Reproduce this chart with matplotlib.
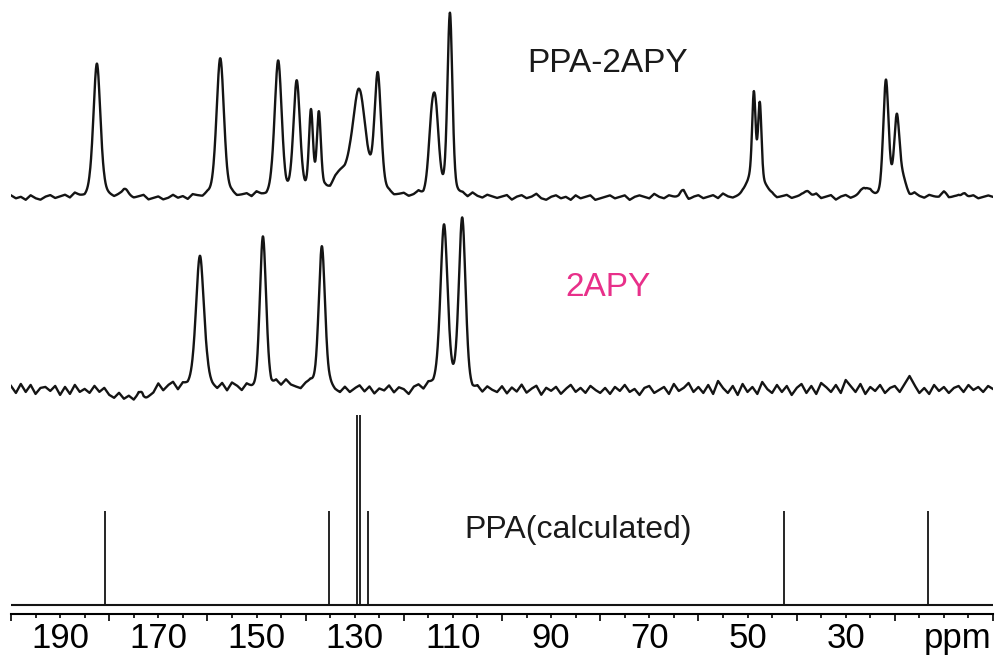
import numpy as np
import matplotlib
matplotlib.use("Agg")
import matplotlib.pyplot as plt

plt.rcParams['font.family'] = ['Liberation Sans', 'DejaVu Sans']

# ---- spectrum data (chemical shift in ppm, intensity in plot units) ----
# PPA-2APY: peak list (centre ppm, height, FWHM ppm)
top_centers = [182.5, 176.6, 157.4, 145.6, 141.8, 138.9, 137.3, 132.6, 129.1,
               125.3, 114.4, 113.5, 110.6, 63.3, 49.6, 48.7, 47.5, 46.6, 37.9, 26.1,
               21.8, 19.6, 18.3, 9.8, 5.9]
top_heights = [134, 5, 137, 133, 112, 80, 80, 22, 104,
               120, 52, 76, 182, 6, 16, 92, 84, 10, 7, 9,
               114, 78, 14, 4, 5]
top_widths = [1.7, 1.4, 1.8, 1.7, 1.6, 1.0, 1.0, 4.0, 3.0,
              1.6, 1.5, 1.6, 1.2, 1.5, 2.0, 0.85, 0.85, 2.0, 1.4, 1.8,
              1.3, 1.3, 1.6, 2.0, 1.0]
top_baseline = 417
# baseline ripple, PPA-2APY (evenly spaced from 200 to 0 ppm)
top_ripple = [1, -1, 0, -2, 1, -1, -2, 0, 1, -1, 0, 1, -1, 2, 0, -1, 1, 0, -1, 1,
              0, -1, 1, 2, 0, -1, 0, 1, -2, -1, 0, -2, -1, 1, -1, 0, -2, 1, 0, -1,
              1, 0, -1, 2, 0, 1, -1, 0, 1, -1, 2, 0, -1, 1, 0, 2, -1, 0, 1, -1,
              0, 1, -1, 0, 2, -1, 1, 0, -1, 1, 0, -1, 1, 2, 0, -1, 0, 1, -1, 0,
              1, -1, 0, 2, -1, 0, 1, -1, 0, 1, -2, 0, 1, -1, 2, 0, -1, 1, 0, -1,
              0, 1, -2, 0, 1, -1, 0, 2, -1, -2, 0, 1, -1, 0, -2, 1, -1, 0, 1, -2,
              -1, 0, 1, -1, 0, 1, -2, 0, 1, 0, -1, 2, 0, -1, 1, 0, -1, 1, -2, 0,
              1, -1, 0, 1, -1, 2, 0, -1, 0, 1, -1, 0, 2, -1, 0, 1, -1, 0, 1, -1,
              0, 1, -1, 0, 2, -1, 0, 1, -2, 0, 1, -1, 0, 1, -1, 2, 0, -1, 1, 0,
              -1, 1, 0, -1, 2, 0, -1, 1, 0, -1, 1, -2, 0, 1, -1, 0, 1, -1, 0, 1, 0]

# 2APY: peak list
mid_centers = [173.3, 161.5, 148.7, 136.7, 111.8, 108.1]
mid_heights = [6, 128, 150, 143, 156, 166]
mid_widths = [1.0, 1.9, 1.5, 1.5, 1.7, 1.6]
mid_baseline = 224
# baseline noise, 2APY (evenly spaced from 200 to 0 ppm)
mid_ripple = [4, -3, 6, -2, 5, -4, 2, 3, -1, 4, -5, 3, -4, 5, -2, 1, -3, 4, -2, 2,
              -5, -8, -3, -9, -6, -10, -4, -11, -7, -3, 6, -1, 4, 7, -1, 5, 3, 6, 8, 4,
              7, 2, -1, 5, -2, 6, 3, -2, 4, 0, -3, 2, 6, 1, 7, 3, 9, 4, 2, 0,
              5, 7, 2, -1, 4, 3, -2, -4, 2, -3, 1, 4, -2, 3, -4, 1, -1, 4, -3, 2,
              0, -5, 2, 4, -1, 5, 3, 7, 8, 5, 3, 6, 4, 0, -3, 1, -4, 2, -1, -3,
              3, -4, 2, -2, 5, -3, 1, 4, -5, 2, -1, 3, -4, 1, 5, -2, 2, -3, 4, 0,
              -3, 2, -4, 3, -1, 5, -2, 1, -5, 2, 4, -3, 0, 3, -4, 6, -1, 2, 7, -2,
              3, -3, 5, -4, 9, 2, -3, 4, -5, 6, -2, 3, -4, 8, 1, -3, 5, -2, 4, -5,
              2, 6, -3, 4, -4, 7, 3, -2, 5, -3, 10, 4, -2, 6, -4, 3, -1, 5, -3, 2,
              4, -2, 6, 14, 5, -3, 2, -4, 5, -1, 3, -3, 2, 4, -2, 5, 0, 3, -2, 4, 1]

# PPA (calculated): stick spectrum
calc_shifts = [180.9, 135.2, 129.5, 128.9, 127.3, 42.6, 13.2]
calc_heights = [94, 94, 190, 190, 94, 94, 94]
calc_baseline = 9

tick_label_values = [190, 170, 150, 130, 110, 90, 70, 50, 30]
PINK = '#e8308a'


def line_shape(x, centers, heights, widths, eta=0.3):
    y = np.zeros_like(x)
    for c, h, w in zip(centers, heights, widths):
        u = (x - c) / w
        lor = 1.0 / (1.0 + 4.0 * u ** 2)
        gau = np.exp(-4.0 * np.log(2.0) * u ** 2)
        y += h * (eta * lor + (1 - eta) * gau)
    return y


ppm = np.linspace(200, 0, 4001)


def ripple_on(x, ripple):
    r = np.asarray(ripple, dtype=float)
    grid = np.linspace(200, 0, len(r))
    return np.interp(x, grid[::-1], r[::-1])


top_trace = top_baseline + line_shape(ppm, top_centers, top_heights, top_widths) \
    + 1.5 * ripple_on(ppm, top_ripple)
mid_trace = mid_baseline + line_shape(ppm, mid_centers, mid_heights, mid_widths) \
    + ripple_on(ppm, mid_ripple)

fig = plt.figure(figsize=(9.97, 6.59), dpi=100)
ax = fig.add_axes([11 / 997, 45 / 659, 982 / 997, 614 / 659])
ax.set_xlim(200, 0)
ax.set_ylim(0, 614)

ax.plot(ppm, top_trace, color='#141414', lw=1.7, solid_joinstyle='round')
ax.plot(ppm, mid_trace, color='#141414', lw=1.7, solid_joinstyle='round')
ax.axhline(calc_baseline, color='#141414', lw=1.5)
ax.vlines(calc_shifts, calc_baseline, [calc_baseline + h for h in calc_heights],
          color='#141414', lw=1.3)

ax.text(78.4, 542, 'PPA-2APY', fontsize=24, ha='center', va='baseline', color='#1a1a1a')
ax.text(78.4, 318, '2APY', fontsize=24, ha='center', va='baseline', color=PINK)
ax.text(84.5, 76, 'PPA(calculated)', fontsize=23, ha='center', va='baseline', color='#1a1a1a')

# x axis: long ticks every 20 ppm, short every 5 ppm, numbers on odd tens
for s in ('left', 'right', 'top'):
    ax.spines[s].set_visible(False)
ax.spines['bottom'].set_linewidth(1.5)
ax.set_yticks([])
ax.set_xticks(np.arange(200, -1, -20), labels=[])
minor = [v for v in np.arange(200, -1, -5) if v % 20 != 0]
minor_labels = [str(int(v)) if v in tick_label_values else '' for v in minor]
ax.set_xticks(minor, labels=minor_labels, minor=True)
ax.tick_params(axis='x', which='major', direction='out', length=5, width=1.2)
ax.tick_params(axis='x', which='minor', direction='out', length=3, width=1.2,
               labelsize=25, pad=2.5)
ax.annotate('ppm', xy=(7.3, 0), xycoords=('data', 'axes fraction'),
            xytext=(0, -5.5), textcoords='offset points', ha='center', va='top',
            fontsize=25)

fig.savefig('out.png', dpi=100)
